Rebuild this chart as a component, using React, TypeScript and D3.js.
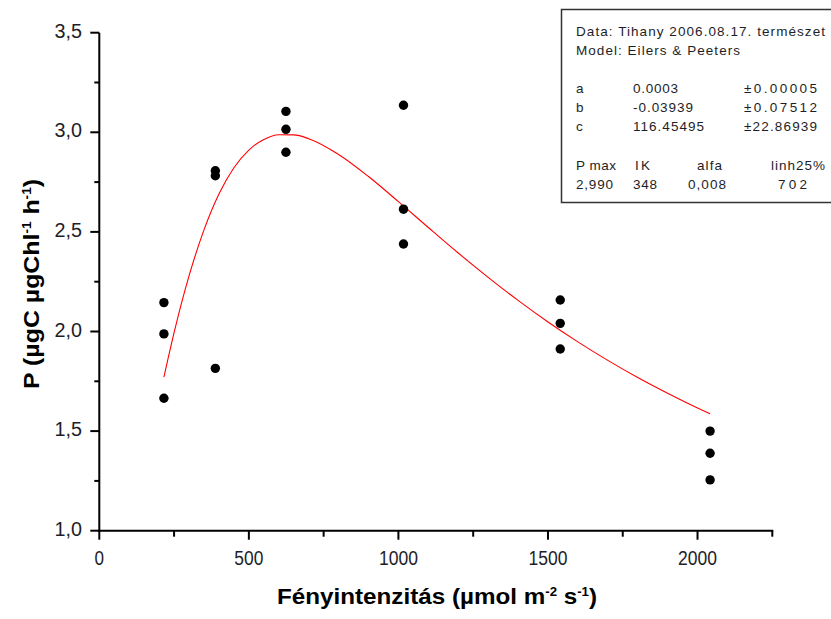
import React from "react";
import * as d3 from "d3";

// Measured photosynthesis: light intensity (µmol m-2 s-1) and P (µgC µgChl-1 h-1)
const intensity = [216, 216, 216, 388, 388, 388, 624, 624, 624, 1017, 1017, 1017, 1541, 1541, 1541, 2042, 2042, 2042];
const production = [2.145, 1.988, 1.665, 2.807, 2.782, 1.815, 3.105, 3.015, 2.9, 3.136, 2.614, 2.439, 2.158, 2.041, 1.912, 1.5, 1.389, 1.255];

// Fitted Eilers & Peeters curve, sampled
const fitI = [216, 250, 300, 350, 400, 450, 500, 550, 600, 650, 700, 800, 900, 1000, 1100, 1200, 1300, 1400, 1500, 1600, 1700, 1800, 1900, 2000, 2042];
const fitP = [1.771, 1.994, 2.279, 2.51, 2.69, 2.822, 2.911, 2.964, 2.988, 2.987, 2.968, 2.889, 2.778, 2.652, 2.522, 2.394, 2.272, 2.156, 2.048, 1.948, 1.855, 1.769, 1.69, 1.616, 1.587];

const xMajorTicks = [0, 500, 1000, 1500, 2000];
const xMinorTicks = [250, 750, 1250, 1750, 2250];
const yMajorTicks = [1.0, 1.5, 2.0, 2.5, 3.0, 3.5];
const yMinorTicks = [1.25, 1.75, 2.25, 2.75, 3.25];

// Fit summary box
const paramNames = ["a", "b", "c"];
const paramValues = ["0.0003", "-0.03939", "116.45495"];
const paramErrors = ["±0.00005", "±0.07512", "±22.86939"];
const summaryHeads = ["P max", "IK", "alfa", "linh25%"];
const summaryValues = ["2,990", "348", "0,008", "702"];

const W = 831;
const H = 619;

const x = d3.scaleLinear().domain([0, 2250]).range([99.3, 772.3]);
const y = d3.scaleLinear().domain([1, 3.5]).range([530.7, 32.7]);

const fmtY = (v: number) => d3.format(".1f")(v).replace(".", ",");

const fitLine = d3
  .line<number>()
  .x((_, i) => x(fitI[i]))
  .y((d) => y(d))
  .curve(d3.curveMonotoneX);

const font = "'Liberation Sans', Arial, sans-serif";
const textColor = "#1e1e28";

export default function App() {
  const x0 = x(0);
  const y0 = y(1);
  const yTop = y(3.5);
  const xEnd = x(2250);

  const headX = [576, 635, 697, 771];
  const headW = [40, 15, 25, 54];
  const valX = [576, 633, 688, 778];
  const valW = [37, 24, 38, 29];

  return (
    <svg
      width={W}
      height={H}
      style={{ position: "absolute", left: 0, top: 0, background: "#fff" }}
      fontFamily={font}
    >
      <rect x={0} y={0} width={W} height={H} fill="#fff" />

      {/* fitted curve */}
      <path d={fitLine(fitP) ?? ""} fill="none" stroke="#ff0000" strokeWidth={1.1} />

      {/* measurements */}
      {intensity.map((v, i) => (
        <circle key={i} cx={x(v)} cy={y(production[i])} r={4.7} fill="#000" />
      ))}

      {/* axes */}
      <line x1={x0} x2={x0} y1={yTop} y2={y0 + 1} stroke="#000" strokeWidth={2} />
      <line x1={x0 - 1} x2={xEnd + 1} y1={y0} y2={y0} stroke="#000" strokeWidth={2} />

      {xMajorTicks.map((t) => (
        <g key={"xM" + t}>
          <line x1={x(t)} x2={x(t)} y1={y0} y2={y0 + 9} stroke="#000" strokeWidth={2} />
          <text x={x(t)} y={564.5} textAnchor="middle" fontSize={20} fill={textColor} textLength={t === 0 ? 9.5 : t >= 1000 ? 39 : 29} lengthAdjust="spacingAndGlyphs">
            {t}
          </text>
        </g>
      ))}
      {xMinorTicks.map((t) => (
        <line key={"xm" + t} x1={x(t)} x2={x(t)} y1={y0} y2={y0 + 6} stroke="#000" strokeWidth={2} />
      ))}

      {yMajorTicks.map((t) => (
        <g key={"yM" + t}>
          <line x1={x0 - 9} x2={x0} y1={y(t)} y2={y(t)} stroke="#000" strokeWidth={2} />
          <text x={82} y={y(t) + 5} textAnchor="end" fontSize={20} fill={textColor} textLength={27.5} lengthAdjust="spacingAndGlyphs">
            {fmtY(t)}
          </text>
        </g>
      ))}
      {yMinorTicks.map((t) => (
        <line key={"ym" + t} x1={x0 - 5} x2={x0} y1={y(t)} y2={y(t)} stroke="#000" strokeWidth={2} />
      ))}

      {/* axis titles */}
      <text
        x={437}
        y={604}
        textAnchor="middle"
        fontSize={22}
        fontWeight="bold"
        fill="#000"
        textLength={320}
        lengthAdjust="spacingAndGlyphs"
      >
        Fényintenzitás (µmol m
        <tspan dy={-8} fontSize={12}>-2</tspan>
        <tspan dy={8}> s</tspan>
        <tspan dy={-8} fontSize={12}>-1</tspan>
        <tspan dy={8}>)</tspan>
      </text>

      <text
        transform={`translate(39, 284) rotate(-90)`}
        textAnchor="middle"
        fontSize={22}
        fontWeight="bold"
        fill="#000"
        textLength={210}
        lengthAdjust="spacingAndGlyphs"
      >
        P (µgC µgChl
        <tspan dy={-8} fontSize={12}>-1</tspan>
        <tspan dy={8}> h</tspan>
        <tspan dy={-8} fontSize={12}>-1</tspan>
        <tspan dy={8}>)</tspan>
      </text>

      {/* fit summary box */}
      <rect x={561.5} y={9.5} width={280} height={193} fill="#fff" stroke="#333" strokeWidth={1.5} />
      <g fontSize={13.5} fill={textColor}>
        <text x={576} y={36} textLength={249} lengthAdjust="spacing">
          Data: Tihany 2006.08.17. természet
        </text>
        <text x={576} y={55} textLength={164} lengthAdjust="spacing">
          Model: Eilers &amp; Peeters
        </text>
        {paramNames.map((n, i) => {
          const by = 92.7 + i * 19;
          return (
            <g key={n}>
              <text x={576} y={by}>{n}</text>
              <text x={633} y={by} textLength={[45, 60, 71][i]} lengthAdjust="spacing">
                {paramValues[i]}
              </text>
              <text x={744} y={by} textLength={73} lengthAdjust="spacing">
                {paramErrors[i]}
              </text>
            </g>
          );
        })}
        {summaryHeads.map((h, i) => (
          <text key={h} x={headX[i]} y={170} textLength={headW[i]} lengthAdjust="spacing">
            {h}
          </text>
        ))}
        {summaryValues.map((v, i) => (
          <text key={v} x={valX[i]} y={188.5} textLength={valW[i]} lengthAdjust="spacing">
            {v}
          </text>
        ))}
      </g>
    </svg>
  );
}
